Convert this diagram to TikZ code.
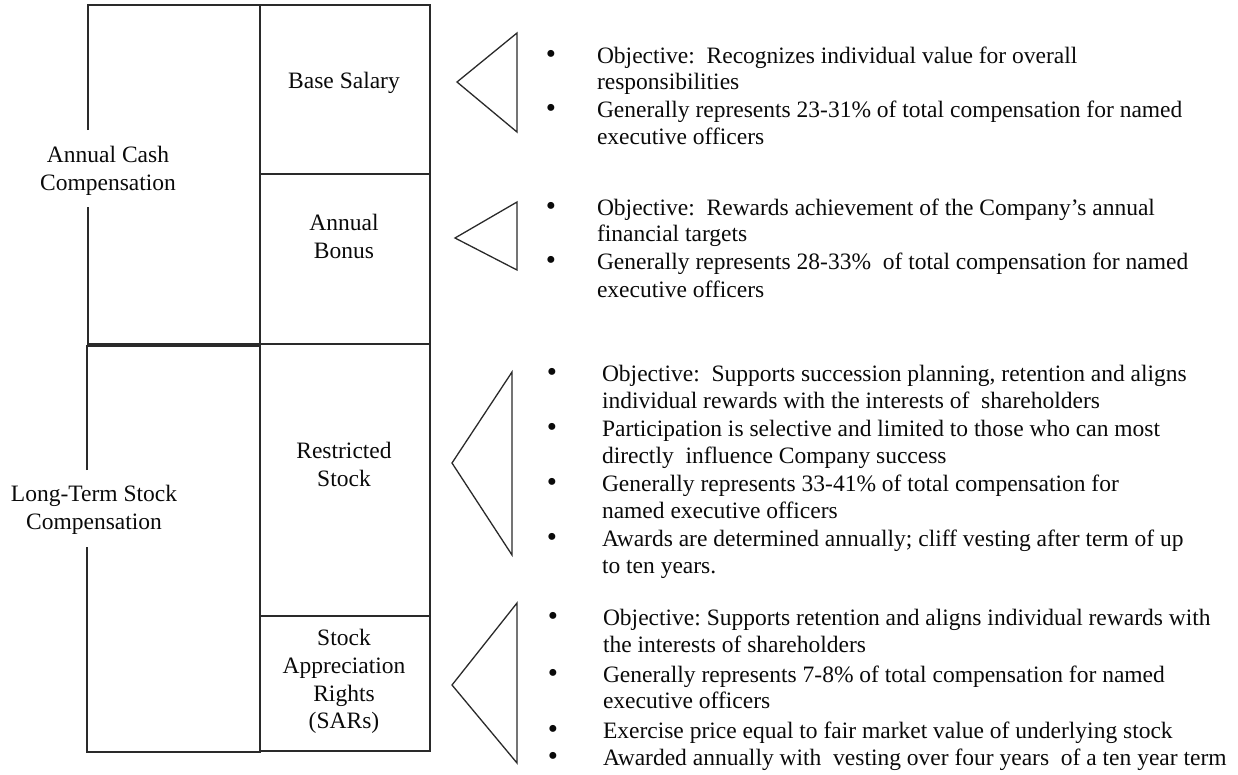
\documentclass[tikz,border=0pt]{standalone}
\usepackage{fontspec}
\setmainfont{Liberation Serif}
\definecolor{ink}{HTML}{0A0A0A}
\definecolor{edge}{HTML}{2A2A2A}
\newcommand\txtline[4]{\node[txt,anchor=base west] (#1) at (#2,#3) {#4};}
\newcommand\ctrline[4]{\node[txt,anchor=base] (#1) at (#2,#3) {#4};}
\newcommand\bul[3]{\node[txt,anchor=base,font=\fontsize{29}{29}\selectfont] (#1) at (#2,#3) {\textbullet};}
\begin{document}
\begin{tikzpicture}[x=1pt,y=-1pt,
  txt/.style={inner sep=0pt,outer sep=0pt,text=ink,font=\fontsize{23.5}{28}\selectfont},
  frame/.style={draw=edge,line width=1.4pt},
  wedge/.style={draw=edge,line width=1.3pt,line join=miter}]
\useasboundingbox (0,0) rectangle (1238,774);
\frenchspacing
% ---- left column boxes
\draw[frame] (88,130) -- (88,5) -- (260,5) -- (260,344) -- (88,344) -- (88,207);
\draw[frame] (87,470) -- (87,346) -- (260,346) -- (260,752) -- (87,752) -- (87,547);
% ---- right column boxes
\draw[frame] (260,5) rectangle (430,344);
\draw[frame] (260,174) -- (430,174);
\draw[frame] (260,344) rectangle (430,751);
\draw[frame] (260,616) -- (430,616);
% ---- left labels
\ctrline{acc1}{108}{162}{Annual Cash}
\ctrline{acc2}{108}{190}{Compensation}
\ctrline{lts1}{94}{501}{Long-Term Stock}
\ctrline{lts2}{94}{529}{Compensation}
% ---- right labels
\ctrline{bs}{344}{88}{Base Salary}
\ctrline{ab1}{344}{230}{Annual}
\ctrline{ab2}{344}{258}{Bonus}
\ctrline{rs1}{344}{458}{Restricted}
\ctrline{rs2}{344}{486}{Stock}
\ctrline{sar1}{344}{645}{Stock}
\ctrline{sar2}{344}{673}{Appreciation}
\ctrline{sar3}{344}{701}{Rights}
\ctrline{sar4}{344}{728}{(SARs)}
% ---- wedges
\draw[wedge] (517,33) -- (457,82) -- (517,132) -- cycle;
\draw[wedge] (517,202) -- (455,238) -- (517,270) -- cycle;
\draw[wedge] (512,372) -- (452,463) -- (512,555) -- cycle;
\draw[wedge] (517,603) -- (452,685) -- (517,763) -- cycle;
% ---- group 1
\bul{b11}{551}{63}\bul{b12}{551}{117}
\txtline{g11}{597}{63}{Objective:~ Recognizes individual value for overall}
\txtline{g12}{597}{89}{responsibilities}
\txtline{g13}{597}{117}{Generally represents 23-31\% of total compensation for named}
\txtline{g14}{597}{144}{executive officers}
% ---- group 2
\bul{b21}{551}{215}\bul{b22}{551}{269}
\txtline{g21}{597}{215}{Objective:~ Rewards achievement of the Company’s annual}
\txtline{g22}{597}{241}{financial targets}
\txtline{g23}{597}{269}{Generally represents 28-33\%~ of total compensation for named}
\txtline{g24}{597}{297}{executive officers}
% ---- group 3
\bul{b31}{552}{381}\bul{b32}{552}{436}\bul{b33}{552}{491}\bul{b34}{552}{546}
\txtline{g31}{602}{381}{Objective:~ Supports succession planning, retention and aligns}
\txtline{g32}{602}{408}{individual rewards with the interests of~ shareholders}
\txtline{g33}{602}{436}{Participation is selective and limited to those who can most}
\txtline{g34}{602}{463}{directly~ influence Company success}
\txtline{g35}{602}{491}{Generally represents 33-41\% of total compensation for}
\txtline{g36}{602}{518}{named executive officers}
\txtline{g37}{602}{546}{Awards are determined annually; cliff vesting after term of up}
\txtline{g38}{602}{573}{to ten years.}
% ---- group 4
\bul{b41}{553}{625}\bul{b42}{553}{682}\bul{b43}{553}{738}\bul{b44}{553}{765}
\txtline{g41}{603}{625}{Objective: Supports retention and aligns individual rewards with}
\txtline{g42}{603}{652}{the interests of shareholders}
\txtline{g43}{603}{682}{Generally represents 7-8\% of total compensation for named}
\txtline{g44}{603}{708}{executive officers}
\txtline{g45}{603}{738}{Exercise price equal to fair market value of underlying stock}
\txtline{g46}{603}{765}{Awarded annually with~ vesting over four years~ of a ten year term}
\end{tikzpicture}
\end{document}
